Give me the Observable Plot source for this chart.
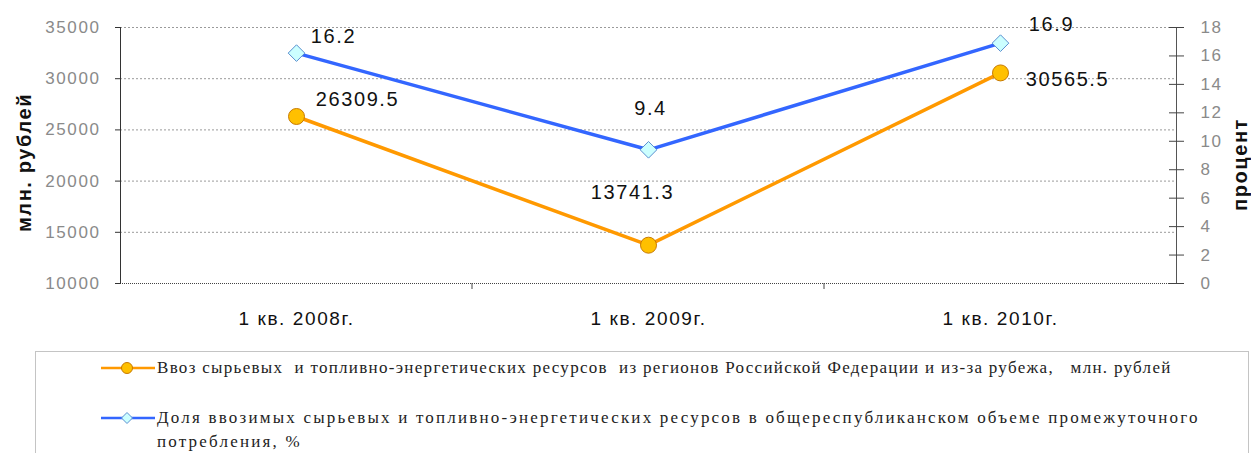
<!DOCTYPE html>
<html><head><meta charset="utf-8">
<script src="https://cdn.jsdelivr.net/npm/d3@7"></script>
<script src="https://cdn.jsdelivr.net/npm/@observablehq/plot@0.6"></script>
<style>
html,body{margin:0;padding:0;background:#fff}
body{width:1251px;height:453px;overflow:hidden;position:relative;font-family:"Liberation Sans",Arial,sans-serif}
#chart{position:absolute;left:0;top:0}
#chart svg text{letter-spacing:1.6px}
#legend{position:absolute;left:35px;top:351px;width:1214px;height:130px;border:1px solid #c4c4c4;box-sizing:border-box;font-family:"Liberation Serif","Times New Roman","DejaVu Serif",serif;font-size:17px;color:#222}
.item{position:absolute;left:65px;display:flex;align-items:flex-start}
.item svg{flex:none;width:54px;height:24px}
.item .t{line-height:24px;white-space:pre;margin-left:2px}
</style>
</head><body>
<div id="chart"></div>
<div id="legend"></div>
<script>
// ---- data ----
const categories = ["1 кв. 2008г.", "1 кв. 2009г.", "1 кв. 2010г."];
const importValues = [26309.5, 13741.3, 30565.5];      // млн. рублей
const sharePercent = [16.2, 9.4, 16.9];                 // процент
const leftTicks = [10000, 15000, 20000, 25000, 30000, 35000];
const rightTicks = [0, 2, 4, 6, 8, 10, 12, 14, 16, 18];
const leftTitle = "млн. рублей";
const rightTitle = "процент";
const seriesNames = [
  "Ввоз сырьевых  и топливно-энергетических ресурсов  из регионов Российской Федерации и из-за рубежа,   млн. рублей",
  "Доля ввозимых сырьевых и топливно-энергетических ресурсов в общереспубликанском объеме промежуточного\nпотребления, %"
];

// ---- scales helpers ----
const leftDomain = [leftTicks[0], leftTicks[leftTicks.length - 1]];
const rightDomain = [rightTicks[0], rightTicks[rightTicks.length - 1]];
const toLeft = p => leftDomain[0] + (p - rightDomain[0]) / (rightDomain[1] - rightDomain[0]) * (leftDomain[1] - leftDomain[0]);
const fromLeft = v => rightDomain[0] + (v - leftDomain[0]) / (leftDomain[1] - leftDomain[0]) * (rightDomain[1] - rightDomain[0]);

const importRows = categories.map((c, i) => ({cat: c, value: importValues[i]}));
const shareRows = categories.map((c, i) => ({cat: c, value: sharePercent[i], y: toLeft(sharePercent[i])}));
const fmt = d3.format(".1f");

const orange = "#FF9900", blue = "#3366FF";

// label placement (style only)
const importLabelOffsets = [[61, -17], [-16, -53], [67, 7]];
const shareLabelOffsets = [[37, -17], [2, -41], [51, -19]];

const chart = Plot.plot({
  width: 1251, height: 340,
  marginTop: 27, marginBottom: 57, marginLeft: 120, marginRight: 75,
  style: {fontFamily: "'Liberation Sans', Arial, sans-serif", background: "#fff", overflow: "visible"},
  x: {type: "point", domain: categories, padding: 0.5, axis: null, label: null},
  y: {domain: leftDomain, axis: null, label: null},
  marks: [
    Plot.ruleY(leftTicks.slice(1), {stroke: "#9a9a9a", strokeDasharray: "2,2", strokeWidth: 1}),
    Plot.ruleY([leftDomain[0]], {stroke: "#444", strokeDasharray: "1,1", strokeWidth: 1.2}),
    Plot.frame({anchor: "left", stroke: "#333"}),
    Plot.frame({anchor: "right", stroke: "#555"}),
    Plot.axisY({anchor: "left", ticks: leftTicks, tickSize: 5, tickPadding: 15, stroke: "#333", fill: "#8a8a8a", fontSize: 17, tickFormat: d => String(d), label: null}),
    Plot.axisY({anchor: "right", ticks: rightTicks.map(toLeft), tickSize: 15, dx: -8, stroke: "#444", fill: "none", label: null}),
    Plot.axisY({anchor: "right", ticks: rightTicks.map(toLeft), tickSize: 0, tickPadding: 24, stroke: "none", fill: "#8a8a8a", fontSize: 17, tickFormat: v => String(Math.round(fromLeft(v))), label: null}),
    Plot.axisX({anchor: "bottom", tickSize: 0, tickPadding: 28, fontSize: 19, fill: "#111", label: null}),
    Plot.text([leftTitle], {text: d => d, frameAnchor: "left", textAnchor: "middle", rotate: -90, dx: -96, dy: 7, fontWeight: "bold", fontSize: 20, fill: "#111"}),
    Plot.text([rightTitle], {text: d => d, frameAnchor: "right", textAnchor: "middle", rotate: -90, dx: 64, dy: 9, fontWeight: "bold", fontSize: 20, fill: "#111"}),
    Plot.line(importRows, {x: "cat", y: "value", stroke: orange, strokeWidth: 3.5}),
    Plot.line(shareRows, {x: "cat", y: "y", stroke: blue, strokeWidth: 3.5}),
    Plot.dot(importRows, {x: "cat", y: "value", r: 8, fill: "#FFC000", stroke: "#C87A00", strokeWidth: 1}),
    Plot.dot(shareRows, {x: "cat", y: "y", symbol: "diamond2", r: 7.5, fill: "#CCFFFF", stroke: "#5B8FD0", strokeWidth: 1}),
    ...importLabelOffsets.map(([dx, dy], i) => Plot.text([importRows[i]], {x: "cat", y: "value", text: d => fmt(d.value), dx, dy, fontSize: 20, fill: "#111"})),
    ...shareLabelOffsets.map(([dx, dy], i) => Plot.text([shareRows[i]], {x: "cat", y: "y", text: d => fmt(d.value), dx, dy, fontSize: 20, fill: "#111"}))
  ]
});

// category separator ticks (Excel-style, between categories) via the library's x scale
const xs = chart.scale("x"), ys = chart.scale("y");
const step = xs.apply(categories[1]) - xs.apply(categories[0]);
const y0 = ys.apply(leftDomain[0]);
const g = d3.select(chart).append("g").attr("stroke", "#444");
categories.slice(1).forEach(c => {
  const x = xs.apply(c) - step / 2;
  g.append("line").attr("x1", x).attr("x2", x).attr("y1", y0).attr("y2", y0 + 6);
});
document.getElementById("chart").appendChild(chart);

// legend
const legend = document.getElementById("legend");
const swatches = [
  `<svg viewBox="0 0 54 24"><line x1="0" x2="54" y1="12" y2="12" stroke="${orange}" stroke-width="2.5"/><circle cx="26" cy="12" r="5.5" fill="#FFC000" stroke="#C87A00"/></svg>`,
  `<svg viewBox="0 0 54 24"><line x1="0" x2="54" y1="12" y2="12" stroke="${blue}" stroke-width="2.5"/><path d="M26 6.5 L31.5 12 L26 17.5 L20.5 12 Z" fill="#CCFFFF" stroke="#5B8FD0"/></svg>`
];
const tops = [4, 54];
const spacing = ["1.3px", "2.2px"];
seriesNames.forEach((name, i) => {
  const div = document.createElement("div");
  div.className = "item";
  div.style.top = tops[i] + "px";
  div.innerHTML = swatches[i];
  const t = document.createElement("div");
  t.className = "t";
  t.style.letterSpacing = spacing[i];
  t.textContent = name;
  div.appendChild(t);
  legend.appendChild(div);
});
</script>
</body></html>
